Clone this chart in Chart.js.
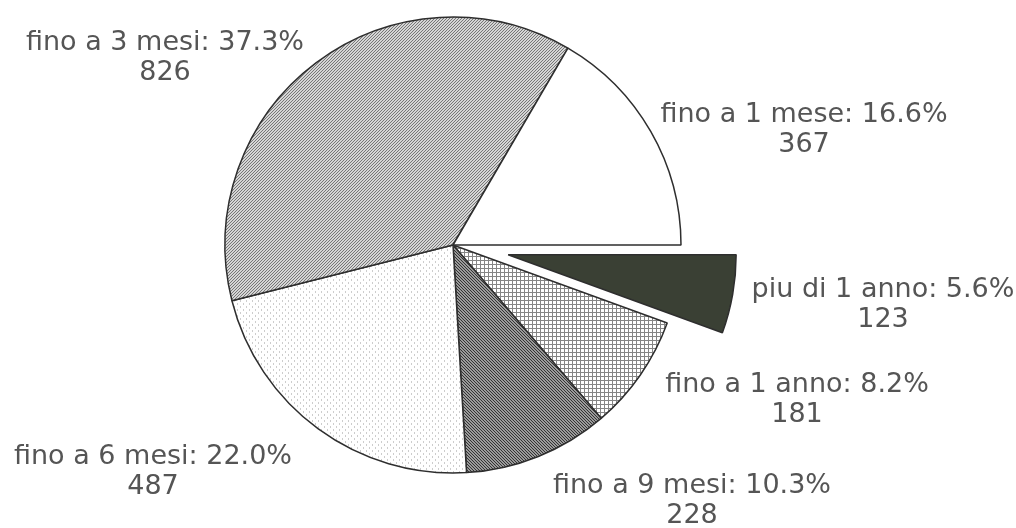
<!DOCTYPE html>
<html>
<head>
<meta charset="utf-8">
<script src="https://cdn.jsdelivr.net/npm/chart.js@4"></script>
<style>
  html, body { margin: 0; padding: 0; background: #fff; }
  canvas { display: block; }
</style>
</head>
<body>
<canvas id="pie" width="1016" height="528"></canvas>
<script>
// slices, clockwise from 3 o'clock
const categories = ["piu di 1 anno", "fino a 1 anno", "fino a 9 mesi", "fino a 6 mesi", "fino a 3 mesi", "fino a 1 mese"];
const counts = [123, 181, 228, 487, 826, 367];

// pulled-out distance per slice (px)
const explode = [56, 0, 0, 0, 0, 0];
// label centre of first text line
const labelAnchors = [[883, 290], [797, 385], [692, 486], [153, 457], [165, 43], [804, 115]];

function makePattern(size, paint) {
  const c = document.createElement("canvas");
  c.width = size; c.height = size;
  const g = c.getContext("2d");
  g.fillStyle = "#fff";
  g.fillRect(0, 0, size, size);
  paint(g, size);
  return g.createPattern(c, "repeat");
}

/* fills */
const diagUp = makePattern(3, (g, s) => {
  g.strokeStyle = "#707070"; g.lineWidth = 1.1;
  g.beginPath();
  g.moveTo(0, s); g.lineTo(s, 0);
  g.moveTo(-1, 1); g.lineTo(1, -1);
  g.moveTo(s - 1, s + 1); g.lineTo(s + 1, s - 1);
  g.stroke();
});
const diagDown = makePattern(3, (g, s) => {
  g.strokeStyle = "#333333"; g.lineWidth = 1.4;
  g.beginPath();
  g.moveTo(0, 0); g.lineTo(s, s);
  g.moveTo(-1, s - 1); g.lineTo(1, s + 1);
  g.moveTo(s - 1, -1); g.lineTo(s + 1, 1);
  g.stroke();
});
const grid = makePattern(4, (g, s) => {
  g.fillStyle = "#858585";
  g.fillRect(0, 0, s, 1);
  g.fillRect(0, 0, 1, s);
});
const dotted = makePattern(6, (g, s) => {
  g.fillStyle = "#cdcdcd";
  g.fillRect(0, 0, 1, 2);
  g.fillRect(3, 3, 1, 2);
});

const fills = ["#3a4034", grid, diagDown, dotted, diagUp, "#ffffff"];

const explodePlugin = {
  id: "explode",
  beforeDatasetDraw(chart, args) {
    const ctx = chart.ctx;
    args.meta.data.forEach((arc, i) => {
      ctx.save();
      const d = explode[i] || 0;
      if (d) {
        const mid = (arc.startAngle + arc.endAngle) / 2;
        ctx.translate(Math.cos(mid) * d, Math.sin(mid) * d);
      }
      arc.draw(ctx, chart.chartArea);
      ctx.restore();
    });
    return false;
  }
};

const total = counts.reduce((a, b) => a + b, 0);

const labelPlugin = {
  id: "sliceLabels",
  afterDraw(chart) {
    const ctx = chart.ctx;
    ctx.save();
    ctx.font = "27px 'DejaVu Sans'";
    ctx.fillStyle = "#555555";
    ctx.textAlign = "center";
    ctx.textBaseline = "middle";
    categories.forEach((name, i) => {
      const [x, y] = labelAnchors[i];
      const pct = (counts[i] / total * 100).toFixed(1);
      ctx.fillText(name + ": " + pct + "%", x, y);
      ctx.fillText(String(counts[i]), x, y + 30);
    });
    ctx.restore();
  }
};

new Chart(document.getElementById("pie"), {
  type: "pie",
  data: {
    labels: categories,
    datasets: [{
      data: counts,
      backgroundColor: fills,
      borderColor: "#2e2e2e",
      borderWidth: 1.5
    }]
  },
  options: {
    responsive: false,
    animation: false,
    rotation: 90,
    radius: 228,
    layout: { padding: { left: 0, right: 110, top: 0, bottom: 38 } },
    plugins: {
      legend: { display: false },
      tooltip: { enabled: false }
    }
  },
  plugins: [explodePlugin, labelPlugin]
});
</script>
</body>
</html>
